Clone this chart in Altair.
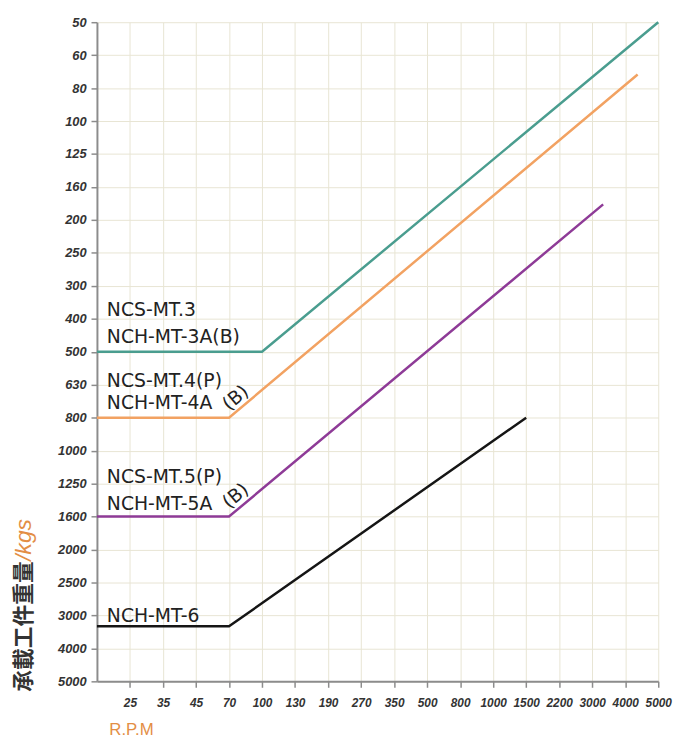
import json
import math
import altair as alt
import pandas as pd

# ---- axis tick labels (evenly spaced slots) ----
rpm_ticks = [25, 35, 45, 70, 100, 130, 190, 270, 350, 500, 800, 1000, 1500, 2200, 3000, 4000, 5000]
kgs_ticks = [50, 60, 80, 100, 125, 160, 200, 250, 300, 400, 500, 630, 800, 1000, 1250, 1600, 2000, 2500, 3000, 4000, 5000]

# ---- series (rpm 0 = starts at the axis) ----
series_names = ["NCS-MT.3", "NCS-MT.4", "NCS-MT.5", "NCH-MT-6"]
series_colors = ["#4a9d8f", "#f2a262", "#8e3b97", "#151515"]
teal_rpm = [0, 100, 5000]
teal_kgs = [500, 500, 50]
orange_rpm = [0, 70, 4350]
orange_kgs = [800, 800, 71]
purple_rpm = [0, 70, 3300]
purple_kgs = [1600, 1600, 180]
black_rpm = [0, 70, 1500]
black_kgs = [3300, 3300, 800]

# ---- line labels (slot units) ----
label_text = ["NCS-MT.3", "NCH-MT-3A(B)", "NCS-MT.4(P)", "NCH-MT-4A", "NCS-MT.5(P)", "NCH-MT-5A", "NCH-MT-6"]
label_x = [-0.7, -0.7, -0.7, -0.7, -0.7, -0.7, -0.7]
label_y = [8.9, 9.72, 11.06, 11.75, 13.97, 14.81, 18.2]
rot_text = ["(B)", "(B)"]
rot_x = [3.2, 3.2]
rot_y = [11.4, 14.37]


def slot(v, ticks):
    if v <= 0:
        return -1.0
    for i in range(len(ticks) - 1):
        a, b = ticks[i], ticks[i + 1]
        if a <= v <= b:
            return i + math.log(v / a) / math.log(b / a)
    return float(len(ticks) - 1)


rows = []
for name, rpms, kgss in zip(series_names,
                            [teal_rpm, orange_rpm, purple_rpm, black_rpm],
                            [teal_kgs, orange_kgs, purple_kgs, black_kgs]):
    for i, (r, k) in enumerate(zip(rpms, kgss)):
        rows.append({"series": name, "order": i, "x": slot(r, rpm_ticks), "y": slot(k, kgs_ticks)})
df = pd.DataFrame(rows)

labels_df = pd.DataFrame({"t": label_text, "x": label_x, "y": label_y})
rot_df = pd.DataFrame({"t": rot_text, "x": rot_x, "y": rot_y})

tick_font = "Liberation Sans, Arial, sans-serif"
orange = "#e38e45"

xscale = alt.Scale(domain=[-1, 16], nice=False, zero=False)
yscale = alt.Scale(domain=[0, 20], nice=False, zero=False, reverse=True)

xaxis = alt.Axis(
    values=list(range(len(rpm_ticks))), tickCount=100,
    labelExpr=json.dumps([str(v) for v in rpm_ticks]) + "[datum.value]",
    grid=True, labelOverlap=False, labelFlush=False,
    labelFont=tick_font, labelFontSize=12, labelFontStyle="italic", labelFontWeight="bold",
    labelColor="#333333", labelPadding=10,
    title="R.P.M", titleColor=orange, titleFont="Liberation Sans", titleFontSize=17,
    titleFontWeight="normal", titleX=12, titleY=54, titleAlign="left", titleBaseline="alphabetic",
)
yaxis = alt.Axis(
    values=list(range(len(kgs_ticks))), tickCount=100,
    labelExpr=json.dumps([str(v) for v in kgs_ticks]) + "[datum.value]",
    grid=True, labelOverlap=False, labelFlush=False,
    labelFont=tick_font, labelFontSize=13, labelFontStyle="italic", labelFontWeight="bold",
    labelColor="#333333", labelPadding=5,
    title="承載工件重量", titleColor="#333333", titleFont="Noto Sans CJK TC", titleFontSize=22,
    titleFontWeight="bold", titleAngle=270, titleX=-74, titleY=677, titleAlign="left",
    titleBaseline="middle",
)

lines = alt.Chart(df).mark_line(strokeWidth=2.5).encode(
    x=alt.X("x:Q", scale=xscale, axis=xaxis),
    y=alt.Y("y:Q", scale=yscale, axis=yaxis),
    color=alt.Color("series:N", scale=alt.Scale(domain=series_names, range=series_colors), legend=None),
    order="order:O",
)

labels = alt.Chart(labels_df).mark_text(
    align="left", baseline="alphabetic", font="DejaVu Sans", fontSize=19, color="#222222"
).encode(x=alt.X("x:Q", scale=xscale), y=alt.Y("y:Q", scale=yscale), text="t:N")

rot_labels = alt.Chart(rot_df).mark_text(
    align="center", baseline="middle", font="DejaVu Sans", fontSize=19, color="#222222", angle=320
).encode(x=alt.X("x:Q", scale=xscale), y=alt.Y("y:Q", scale=yscale), text="t:N")

kgs_title = alt.Chart(pd.DataFrame({"t": ["/kgs"]})).mark_text(
    angle=270, align="left", baseline="middle", font="Liberation Sans", fontSize=23,
    fontStyle="italic", color=orange,
).encode(x=alt.value(-74), y=alt.value(677 - 132), text="t:N")

chart = alt.layer(lines, labels, rot_labels, kgs_title).properties(
    width=568, height=667,
    autosize=alt.AutoSizeParams(type="none"),
    padding={"left": 90, "top": 10, "right": 21, "bottom": 57},
).configure_view(strokeWidth=0).configure_axis(
    domainColor="#8c8c8c", domainWidth=2, tickColor="#8c8c8c", tickWidth=1.5, tickSize=6,
    gridColor="#e8e5d3", gridWidth=1,
)

chart.save("out.html", embed_options={"renderer": "svg", "actions": False})
